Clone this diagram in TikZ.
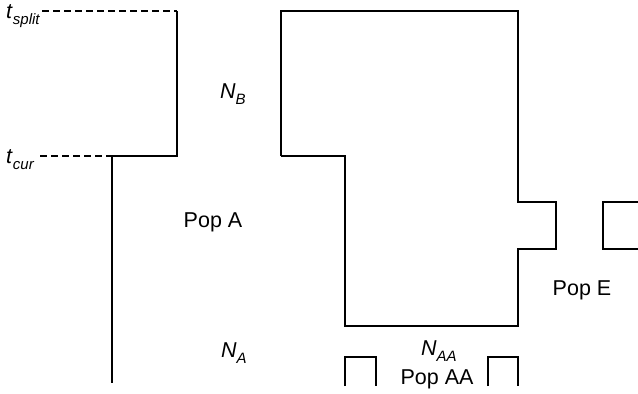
\documentclass[tikz,border=0pt]{standalone}
\usepackage{fontspec}
\setmainfont{Liberation Sans}
\newcommand\lowidx[1]{\raisebox{-0.28em}{\fontsize{15}{15}\selectfont\itshape #1}}
\begin{document}
\begin{tikzpicture}[x=1pt,y=-1pt,
  wall/.style={line width=2.3pt,line join=miter},
  guide/.style={line width=1.7pt,dash pattern=on 7pt off 4pt},
  lbl/.style={inner sep=0pt,font=\fontsize{21.5}{24}\selectfont}]
\useasboundingbox (0,0) rectangle (638,394);

% time marks
\coordinate (ts0) at (42,11);
\coordinate (ts1) at (177,11);
\coordinate (tc0) at (40,156);
\coordinate (tc1) at (112,156);
\coordinate (tcb) at (112,383);
\node[lbl,anchor=base west] (tsplit) at (6,18) {\textit{t}\lowidx{split}};
\node[lbl,anchor=base west] (tcur) at (6,163) {\textit{t}\lowidx{cur}};
\draw[guide] (ts0) -- (ts1);
\draw[guide] (tc0) -- (tc1);

% left lineage: upper and lower branches
\coordinate (tcm) at (177,156);
\draw[wall] (ts1) -- (tcm) -- (tc1) -- (tcb);

% right lineage outline
\coordinate (r1) at (281,11);
\coordinate (r2) at (518,11);
\coordinate (r3) at (518,202);
\coordinate (r4) at (556,202);
\coordinate (r5) at (556,249);
\coordinate (r6) at (518,249);
\coordinate (r7) at (518,326);
\coordinate (r8) at (345,326);
\coordinate (r9) at (345,156);
\coordinate (r10) at (281,156);
\draw[wall] (r10) -- (r1) -- (r2) -- (r3) -- (r4) -- (r5) -- (r6) -- (r7)
  -- (r8) -- (r9) -- (r10);

% Pop E stub
\coordinate (e1) at (640,202);
\coordinate (e2) at (603,202);
\coordinate (e3) at (603,249);
\coordinate (e4) at (640,249);
\draw[wall] (e1) -- (e2) -- (e3) -- (e4);

% Pop AA brackets
\coordinate (a1) at (345,386);
\coordinate (a2) at (345,357);
\coordinate (a3) at (376,357);
\coordinate (a4) at (376,386);
\draw[wall] (a1) -- (a2) -- (a3) -- (a4);
\coordinate (b1) at (488,386);
\coordinate (b2) at (488,357);
\coordinate (b3) at (518,357);
\coordinate (b4) at (518,386);
\draw[wall] (b1) -- (b2) -- (b3) -- (b4);

% labels
\node[lbl,anchor=base west] (nb) at (220,98) {\textit{N}\lowidx{B}};
\node[lbl,anchor=base] (popa) at (213,227) {Pop A};
\node[lbl,anchor=base west] (na) at (221,357) {\textit{N}\lowidx{A}};
\node[lbl,anchor=base west] (naa) at (421,355) {\textit{N}\lowidx{AA}};
\node[lbl,anchor=base] (popaa) at (437,384) {Pop AA};
\node[lbl,anchor=base] (pope) at (582,295) {Pop E};
\end{tikzpicture}
\end{document}
